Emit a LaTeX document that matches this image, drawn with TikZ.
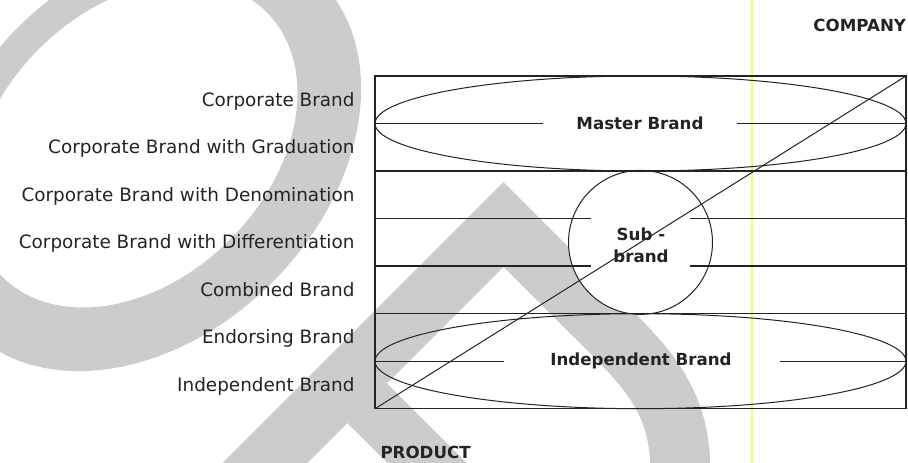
\documentclass[tikz,border=0pt]{standalone}
\usepackage{fontspec}
\setmainfont{DejaVu Sans}
\definecolor{wmgrey}{RGB}{204,204,204}
\definecolor{scanyellow}{RGB}{250,246,110}
\definecolor{inkline}{RGB}{35,35,35}
\tikzset{every picture/.style={line width=0.75pt}}
\tikzset{
  rowlabel/.style={anchor=base east, inner sep=0pt, font=\fontsize{13.8}{16}\selectfont, text=inkline},
  brandlabel/.style={inner sep=0pt, font=\bfseries\fontsize{12.5}{16.5}\selectfont, text=inkline},
  rowline/.style={draw=inkline, line width=0.9pt},
  watermark/.style={draw=wmgrey, line width=45pt}
}

\begin{document}
\begin{tikzpicture}[x=0.75pt,y=0.75pt,yscale=-1,xscale=1]
\useasboundingbox (0,0) rectangle (908,463);

\begin{scope}
\clip (0,0) rectangle (908,463);
%Shape: Ring [id:wm01]
\fill[wmgrey, even odd rule, rotate around={-45:(145,155)}] (145,155) ellipse [x radius=247, y radius=180] (145,140) ellipse [x radius=187, y radius=135];
%Shape: Chevron [id:wm02]
\draw[watermark, line join=miter] (243.5,484.5) -- (503.5,224.5) -- (580,301) .. controls (640,361) and (684,395) .. (680,480);
%Straight Lines [id:wm03]
\draw[watermark, line width=42pt] (346,382) -- (456,492);
\end{scope}

%Straight Lines [id:da01]
\draw[scanyellow, line width=2pt] (752,0) -- (752,463);

% corners of the chart
\coordinate (bl) at (375,408.7);
\coordinate (tr) at (906,76);

%Shape: Circle [id:dp01]
\fill[white] (640.5,242.4) circle [radius=72];
%Shape: Rectangle [id:dp02]
\draw[rowline] (375,76) rectangle (906,408.7);
%Straight Lines [id:da02]
\draw[rowline] (375,123.5) -- (543,123.5) (737,123.5) -- (906,123.5);
%Straight Lines [id:da03]
\draw[rowline] (375,171.1) -- (906,171.1);
%Straight Lines [id:da04]
\draw[rowline] (375,218.6) -- (591,218.6) (690,218.6) -- (906,218.6);
%Straight Lines [id:da05]
\draw[rowline] (375,266.1) -- (591,266.1) (690,266.1) -- (906,266.1);
%Straight Lines [id:da06]
\draw[rowline] (375,313.7) -- (906,313.7);
%Straight Lines [id:da07]
\draw[rowline] (375,361.2) -- (504,361.2) (780,361.2) -- (906,361.2);
%Shape: Ellipse [id:dp03]
\draw[inkline] (640.5,123.5) ellipse [x radius=265.5, y radius=47.5];
%Shape: Ellipse [id:dp04]
\draw[inkline] (640.5,361.2) ellipse [x radius=265.5, y radius=47.5];
%Shape: Circle [id:dp05]
\draw[inkline] (640.5,242.4) circle [radius=72];
%Straight Lines [id:da08]
\draw[inkline] (bl) -- (tr);

% Text Node
\node[rowlabel] (corp) at (355,106.3) {Corporate Brand};
% Text Node
\node[rowlabel] (grad) at (355,153.8) {Corporate Brand with Graduation};
% Text Node
\node[rowlabel] (deno) at (355,201.3) {Corporate Brand with Denomination};
% Text Node
\node[rowlabel] (diff) at (355,248.9) {Corporate Brand with Differentiation};
% Text Node
\node[rowlabel] (comb) at (355,296.4) {Combined Brand};
% Text Node
\node[rowlabel] (endo) at (355,344.0) {Endorsing Brand};
% Text Node
\node[rowlabel] (indep) at (355,392.0) {Independent Brand};
% Text Node
\node[brandlabel] (master) at (640,123.5) {Master Brand};
% Text Node
\node[brandlabel, align=center] (sub) at (641,245) {Sub -\\brand};
% Text Node
\node[brandlabel, anchor=base] (indepb) at (641,365.5) {Independent Brand};
% Text Node
\node[brandlabel, anchor=base east] (company) at (906.5,31.7) {COMPANY};
% Text Node
\node[brandlabel, anchor=base west] (product) at (380,459) {PRODUCT};

\end{tikzpicture}
\end{document}
